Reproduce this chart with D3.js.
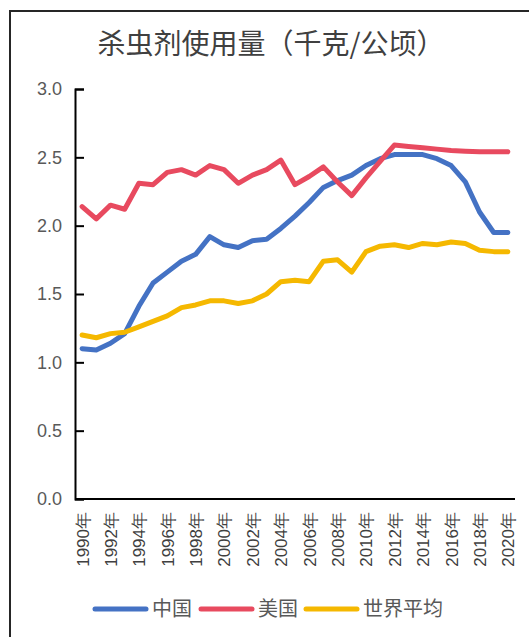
<!DOCTYPE html>
<html>
<head>
<meta charset="utf-8">
<script src="https://cdn.jsdelivr.net/npm/d3@7"></script>
<style>
  html, body { margin: 0; padding: 0; background: #fff; }
  svg { display: block; }
</style>
</head>
<body>
<div id="chart"></div>
<script>
// DATA
const years = d3.range(1990, 2021);
const chinaValues = [1.10, 1.09, 1.14, 1.21, 1.41, 1.58, 1.66, 1.74, 1.79, 1.92, 1.86,
                     1.84, 1.89, 1.90, 1.98, 2.07, 2.17, 2.28, 2.33, 2.37, 2.44,
                     2.49, 2.52, 2.52, 2.52, 2.49, 2.44, 2.32, 2.10, 1.95, 1.95];
const usaValues = [2.14, 2.05, 2.15, 2.12, 2.31, 2.30, 2.39, 2.41, 2.37, 2.44, 2.41,
                   2.31, 2.37, 2.41, 2.48, 2.30, 2.36, 2.43, 2.32, 2.22, 2.35,
                   2.47, 2.59, 2.58, 2.57, 2.56, 2.55, 2.545, 2.54, 2.54, 2.54];
const worldValues = [1.20, 1.18, 1.21, 1.22, 1.26, 1.30, 1.34, 1.40, 1.42, 1.45, 1.45,
                     1.43, 1.45, 1.50, 1.59, 1.60, 1.59, 1.74, 1.75, 1.66, 1.81,
                     1.85, 1.86, 1.84, 1.87, 1.86, 1.88, 1.87, 1.82, 1.81, 1.81];
const seriesNames = ['中国', '美国', '世界平均'];
const seriesColors = ['#4472C4', '#E84A5F', '#F5B800'];
const yTicks = [0, 0.5, 1.0, 1.5, 2.0, 2.5, 3.0];
const xTickYears = years.filter(y => y % 2 === 0);
const title = '杀虫剂使用量（千克/公顷）';

const series = [chinaValues, usaValues, worldValues].map((vals, i) => ({
    name: seriesNames[i],
    color: seriesColors[i],
    values: vals.map((v, j) => ({ year: years[j], value: v }))
}));

const width = 529, height = 637;
const margin = { top: 89, right: 14, bottom: 138, left: 75 };

const svg = d3.select('#chart').append('svg')
    .attr('width', width)
    .attr('height', height);

// FRAME (left and top edges visible)
svg.append('path')
    .attr('d', `M10,${height + 5}V11H${width + 5}`)
    .attr('fill', 'none')
    .attr('stroke', '#262626')
    .attr('stroke-width', 2);

// TITLE
svg.append('text')
    .attr('x', 271)
    .attr('y', 54)
    .attr('text-anchor', 'middle')
    .attr('font-family', '"Noto Sans CJK SC", sans-serif')
    .attr('font-size', 28)
    .attr('fill', '#404040')
    .text(title);

const x = d3.scalePoint()
    .domain(years)
    .range([margin.left, width - margin.right])
    .padding(0.5);

const y = d3.scaleLinear()
    .domain([0, 3])
    .range([height - margin.bottom, margin.top]);

// AXES
const yAxis = svg.append('g')
    .attr('transform', `translate(${margin.left},0)`)
    .call(d3.axisLeft(y).tickValues(yTicks).tickSize(-9).tickPadding(13)
        .tickFormat(d3.format('.1f')));
yAxis.select('.domain').attr('stroke', '#000').attr('stroke-width', 2);
yAxis.selectAll('.tick line').attr('stroke', '#000').attr('stroke-width', 2);
yAxis.selectAll('text')
    .attr('font-family', '"Liberation Sans", Arial, sans-serif')
    .attr('font-size', 18)
    .attr('fill', '#595959');

const xAxis = svg.append('g')
    .attr('transform', `translate(0,${height - margin.bottom})`)
    .call(d3.axisBottom(x).tickValues(xTickYears).tickSize(0)
        .tickFormat(d => d + '年'));
xAxis.select('.domain')
    .attr('d', `M${margin.left},0H${width - margin.right}`)
    .attr('stroke', '#000').attr('stroke-width', 2);
xAxis.selectAll('text')
    .attr('transform', 'rotate(-90)')
    .attr('x', -13)
    .attr('y', 0)
    .attr('dy', '0.35em')
    .attr('text-anchor', 'end')
    .attr('font-family', '"Liberation Sans", Arial, sans-serif')
    .attr('font-size', 17)
    .attr('fill', '#404040');

// LINES
const line = d3.line()
    .x(d => x(d.year))
    .y(d => y(d.value));

svg.append('g')
    .selectAll('path')
    .data(series)
    .join('path')
    .attr('d', d => line(d.values))
    .attr('fill', 'none')
    .attr('stroke', d => d.color)
    .attr('stroke-width', 5)
    .attr('stroke-linejoin', 'round')
    .attr('stroke-linecap', 'round');

// LEGEND
const legendX = [95, 201, 306];
const legend = svg.append('g')
    .selectAll('g')
    .data(series)
    .join('g')
    .attr('transform', (d, i) => `translate(${legendX[i]},609)`);

legend.append('line')
    .attr('x1', 0).attr('x2', 51)
    .attr('stroke', d => d.color)
    .attr('stroke-width', 5)
    .attr('stroke-linecap', 'round');

legend.append('text')
    .attr('x', 57)
    .attr('dy', '0.36em')
    .attr('font-family', '"Noto Sans CJK SC", sans-serif')
    .attr('font-size', 20)
    .attr('fill', '#595959')
    .text(d => d.name);
</script>
</body>
</html>
